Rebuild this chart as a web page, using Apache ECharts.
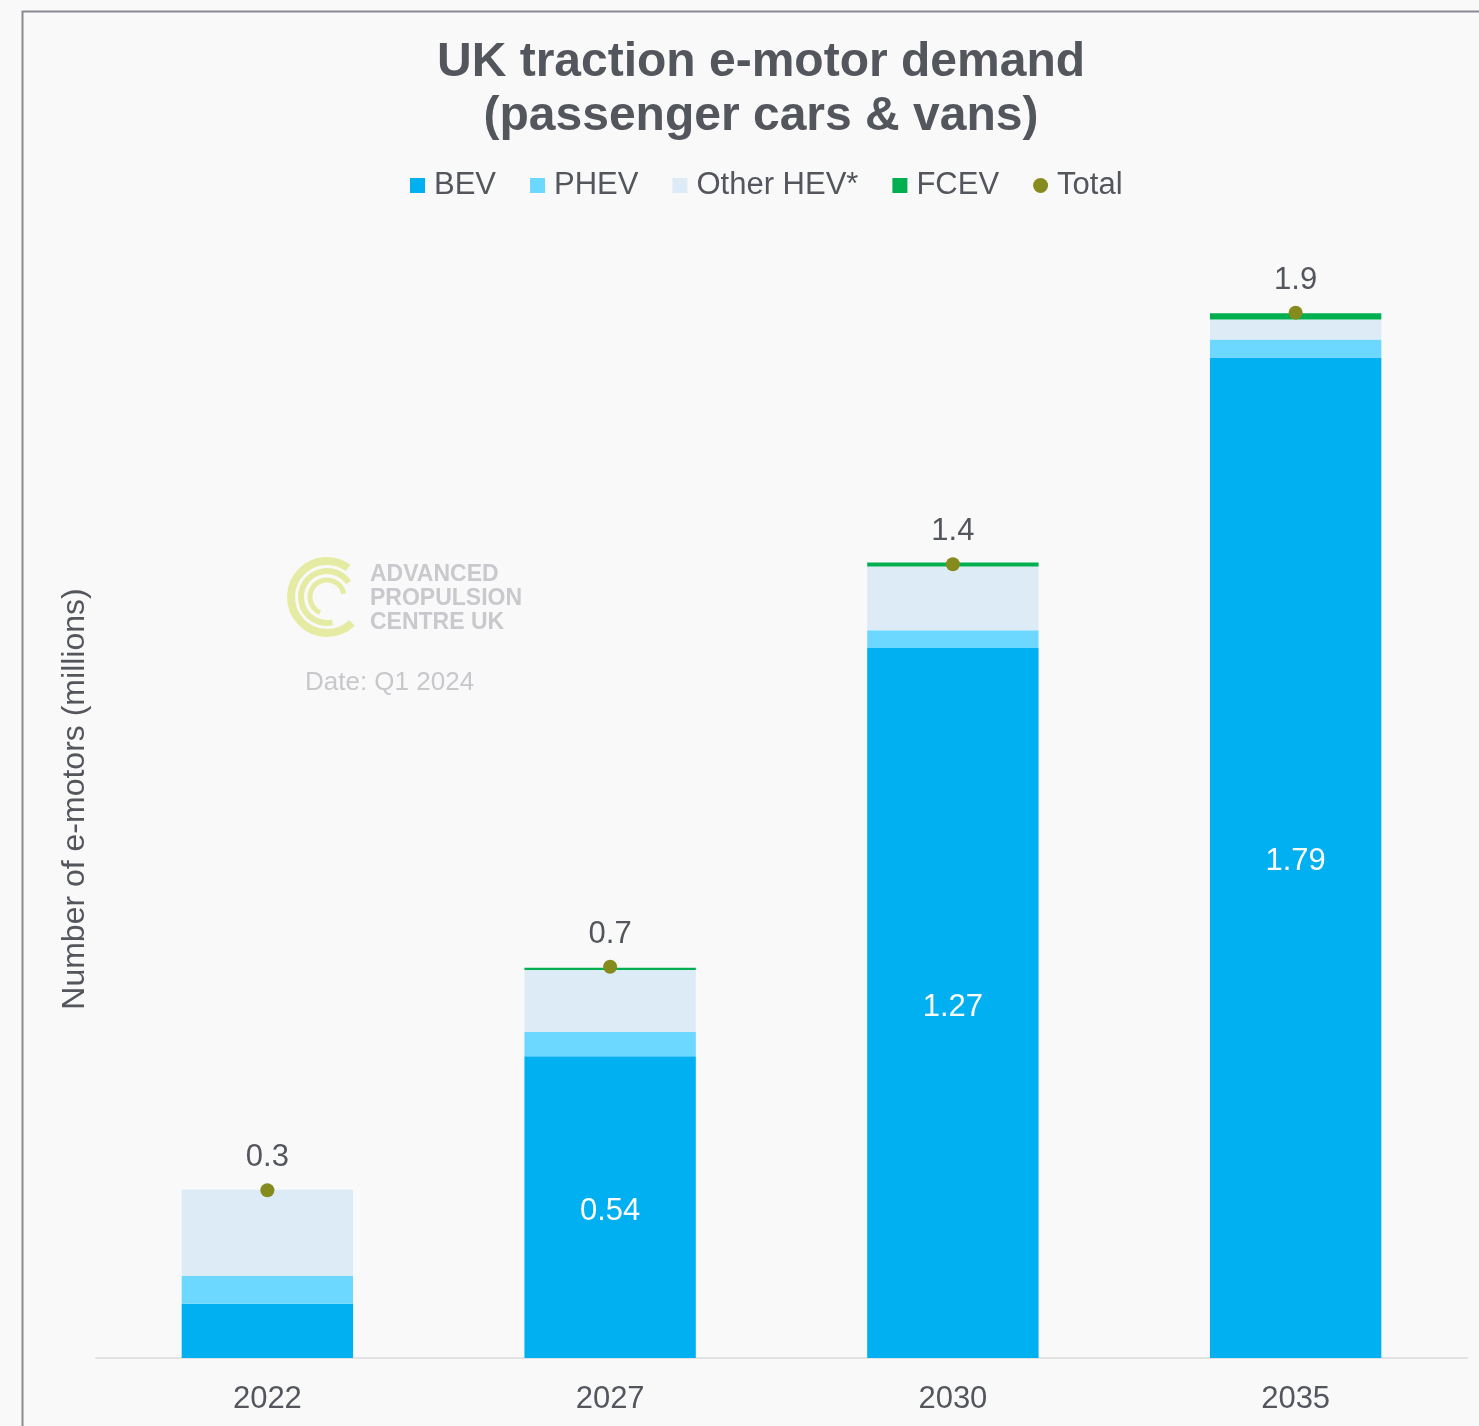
<!DOCTYPE html>
<html>
<head>
<meta charset="utf-8">
<script src="https://cdn.jsdelivr.net/npm/echarts@6/dist/echarts.min.js"></script>
<style>
html,body{margin:0;padding:0;background:#f9f9f9;}
#chart{width:1479px;height:1426px;}
</style>
</head>
<body>
<div id="chart"></div>
<script>
var categories = ['2022', '2027', '2030', '2035'];
var bev = [0.097, 0.54, 1.27, 1.79];
var bevLabels = [false, true, true, true];
var phev = [0.050, 0.043, 0.032, 0.032];
var otherHev = [0.154, 0.111, 0.114, 0.036];
var fcev = [0, 0.004, 0.007, 0.011];
var total = [0.30, 0.70, 1.42, 1.87];

var textColor = '#53565c';
var font = '"Liberation Sans", Arial, sans-serif';
var deg = Math.PI / 180;
var logoColor = '#e5eba2';

var chart = echarts.init(document.getElementById('chart'));
chart.setOption({
  backgroundColor: '#f9f9f9',
  animation: false,
  textStyle: { fontFamily: font },
  title: {
    text: 'UK traction e-motor demand\n(passenger cars & vans)',
    left: 756, top: 31, textAlign: 'center',
    textStyle: { fontSize: 48, fontWeight: 'bold', color: textColor, lineHeight: 54, fontFamily: font }
  },
  legend: {
    top: 165, left: 405,
    itemWidth: 15, itemHeight: 15, itemGap: 34,
    textStyle: { fontSize: 31, color: textColor, fontFamily: font, padding: [0, 0, 0, 4] },
    data: [
      { name: 'BEV', icon: 'rect' },
      { name: 'PHEV', icon: 'rect' },
      { name: 'Other HEV*', icon: 'rect' },
      { name: 'FCEV', icon: 'rect' },
      { name: 'Total', icon: 'circle', itemStyle: { opacity: 1 } }
    ]
  },
  grid: { left: 96, right: 12, top: 240, bottom: 68 },
  xAxis: {
    type: 'category', data: categories,
    axisLine: { lineStyle: { color: '#e2e2e2', width: 2 } },
    axisTick: { show: false },
    axisLabel: { fontSize: 31, color: textColor, margin: 26, fontFamily: font }
  },
  yAxis: {
    type: 'value', min: 0, max: 2, interval: 0.5,
    axisLabel: { show: false }, axisLine: { show: false }, axisTick: { show: false }, splitLine: { show: false },
    name: 'Number of e-motors (millions)', nameLocation: 'middle', nameGap: 5,
    nameTextStyle: { fontSize: 32, color: textColor, fontFamily: font }
  },
  series: [
    { name: 'BEV', type: 'bar', stack: 's', barWidth: '50%',
      itemStyle: { color: '#00b0f0' },
      data: bev.map(function (v, i) { return { value: v, label: { show: bevLabels[i] } }; }),
      label: { position: 'inside', color: '#ffffff', fontSize: 31, fontFamily: font, offset: [0, 4] } },
    { name: 'PHEV', type: 'bar', stack: 's', itemStyle: { color: '#6dd8ff' }, data: phev },
    { name: 'Other HEV*', type: 'bar', stack: 's', itemStyle: { color: '#ddebf7' }, data: otherHev },
    { name: 'FCEV', type: 'bar', stack: 's', itemStyle: { color: '#00b050' }, data: fcev },
    { name: 'Total', type: 'scatter', symbol: 'circle', symbolSize: 14, z: 10,
      itemStyle: { color: '#868b1e', opacity: 1 }, data: total,
      label: { show: true, position: 'top', distance: 10, fontSize: 31, color: textColor, fontFamily: font,
        formatter: function (p) { return p.value.toFixed(1); } } }
  ],
  graphic: [
    { type: 'rect', shape: { x: 22.5, y: 11.5, width: 1500, height: 1500 },
      style: { fill: null, stroke: '#8a8a90', lineWidth: 2 }, silent: true },
    { type: 'arc', shape: { cx: 327, cy: 597, r: 36, startAngle: 46 * deg, endAngle: 306 * deg },
      style: { stroke: logoColor, lineWidth: 8, fill: null } },
    { type: 'arc', shape: { cx: 327, cy: 597, r: 26, startAngle: 78 * deg, endAngle: 326 * deg },
      style: { stroke: logoColor, lineWidth: 6, fill: null } },
    { type: 'arc', shape: { cx: 327, cy: 597, r: 17, startAngle: 114 * deg, endAngle: 349 * deg },
      style: { stroke: logoColor, lineWidth: 5, fill: null } },
    { type: 'text', left: 370, top: 563,
      style: { text: 'ADVANCED\nPROPULSION\nCENTRE UK', fill: '#c9c9cd', font: 'bold 23px "Liberation Sans", Arial, sans-serif', lineHeight: 24 } },
    { type: 'text', left: 305, top: 670,
      style: { text: 'Date: Q1 2024', fill: '#c8c8cc', font: '26px "Liberation Sans", Arial, sans-serif' } }
  ]
});
</script>
</body>
</html>
